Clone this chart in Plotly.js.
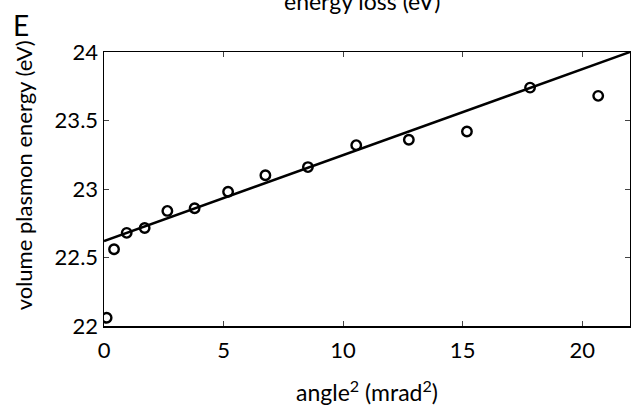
<!DOCTYPE html>
<html>
<head>
<meta charset="utf-8">
<script src="https://cdn.plot.ly/plotly-3.0.1.min.js"></script>
<style>html,body{margin:0;padding:0;background:#fff;}</style>
</head>
<body>
<div id="chart" style="width:631px;height:408px;"></div>
<script>
// measured points: angle^2 (mrad^2) vs volume plasmon energy (eV)
const angleSq = [0.11, 0.42, 0.95, 1.70, 2.65, 3.79, 5.19, 6.75, 8.53, 10.55, 12.75, 15.18, 17.82, 20.67];
const energy  = [22.06, 22.56, 22.68, 22.715, 22.84, 22.86, 22.98, 23.10, 23.16, 23.32, 23.36, 23.42, 23.74, 23.68];
// linear fit line endpoints
const fitX = [0, 22];
const fitY = [22.62, 24.0];
const xTicks = [0, 5, 10, 15, 20];
const yTicks = [22, 22.5, 23, 23.5, 24];
const yTickText = ['22', '22.5', '23', '23.5', '24'];

const font = 'Lato, "Open Sans", sans-serif';

const traces = [
  {x: fitX, y: fitY, mode: 'lines', line: {color: '#000', width: 2.5}, showlegend: false, hoverinfo: 'skip'},
  {x: angleSq, y: energy, mode: 'markers', showlegend: false,
   marker: {symbol: 'circle-open', size: 9.5, color: '#000', line: {width: 2.4, color: '#000'}}}
];

const layout = {
  width: 631, height: 408,
  margin: {l: 104, r: 1, t: 52, b: 82},
  paper_bgcolor: '#fff', plot_bgcolor: '#fff',
  font: {family: font, size: 23, color: '#000'},
  xaxis: {
    range: [0, 22], tickvals: xTicks, ticks: 'inside', ticklen: 5, tickwidth: 1,
    showline: true, linecolor: '#000', linewidth: 1.5, mirror: 'ticks',
    showgrid: false, zeroline: false, tickfont: {size: 22}, ticklabelstandoff: 4,
    title: {text: 'angle<sup>2</sup> (mrad<sup>2</sup>)', font: {size: 23}, standoff: 23}
  },
  yaxis: {
    range: [22, 24], tickvals: yTicks, ticktext: yTickText, ticks: 'inside', ticklen: 5, tickwidth: 1,
    showline: true, linecolor: '#000', linewidth: 1.5, mirror: 'ticks',
    showgrid: false, zeroline: false, tickfont: {size: 22}
  },
  annotations: [
    {text: 'volume plasmon energy (eV)', xref: 'paper', yref: 'paper', x: -0.153, y: 0.548,
     xanchor: 'center', yanchor: 'middle', textangle: -90, showarrow: false, font: {size: 22}},
    {text: 'energy loss (eV)', xref: 'paper', yref: 'paper', x: 0.49, y: 1.128,
     xanchor: 'center', yanchor: 'bottom', showarrow: false, font: {size: 23}},
    {text: 'E', xref: 'paper', yref: 'paper', x: -0.176, y: 1.168,
     xanchor: 'left', yanchor: 'top', showarrow: false, font: {size: 28}}
  ]
};

Plotly.newPlot('chart', traces, layout, {staticPlot: true, displayModeBar: false});
</script>
</body>
</html>
